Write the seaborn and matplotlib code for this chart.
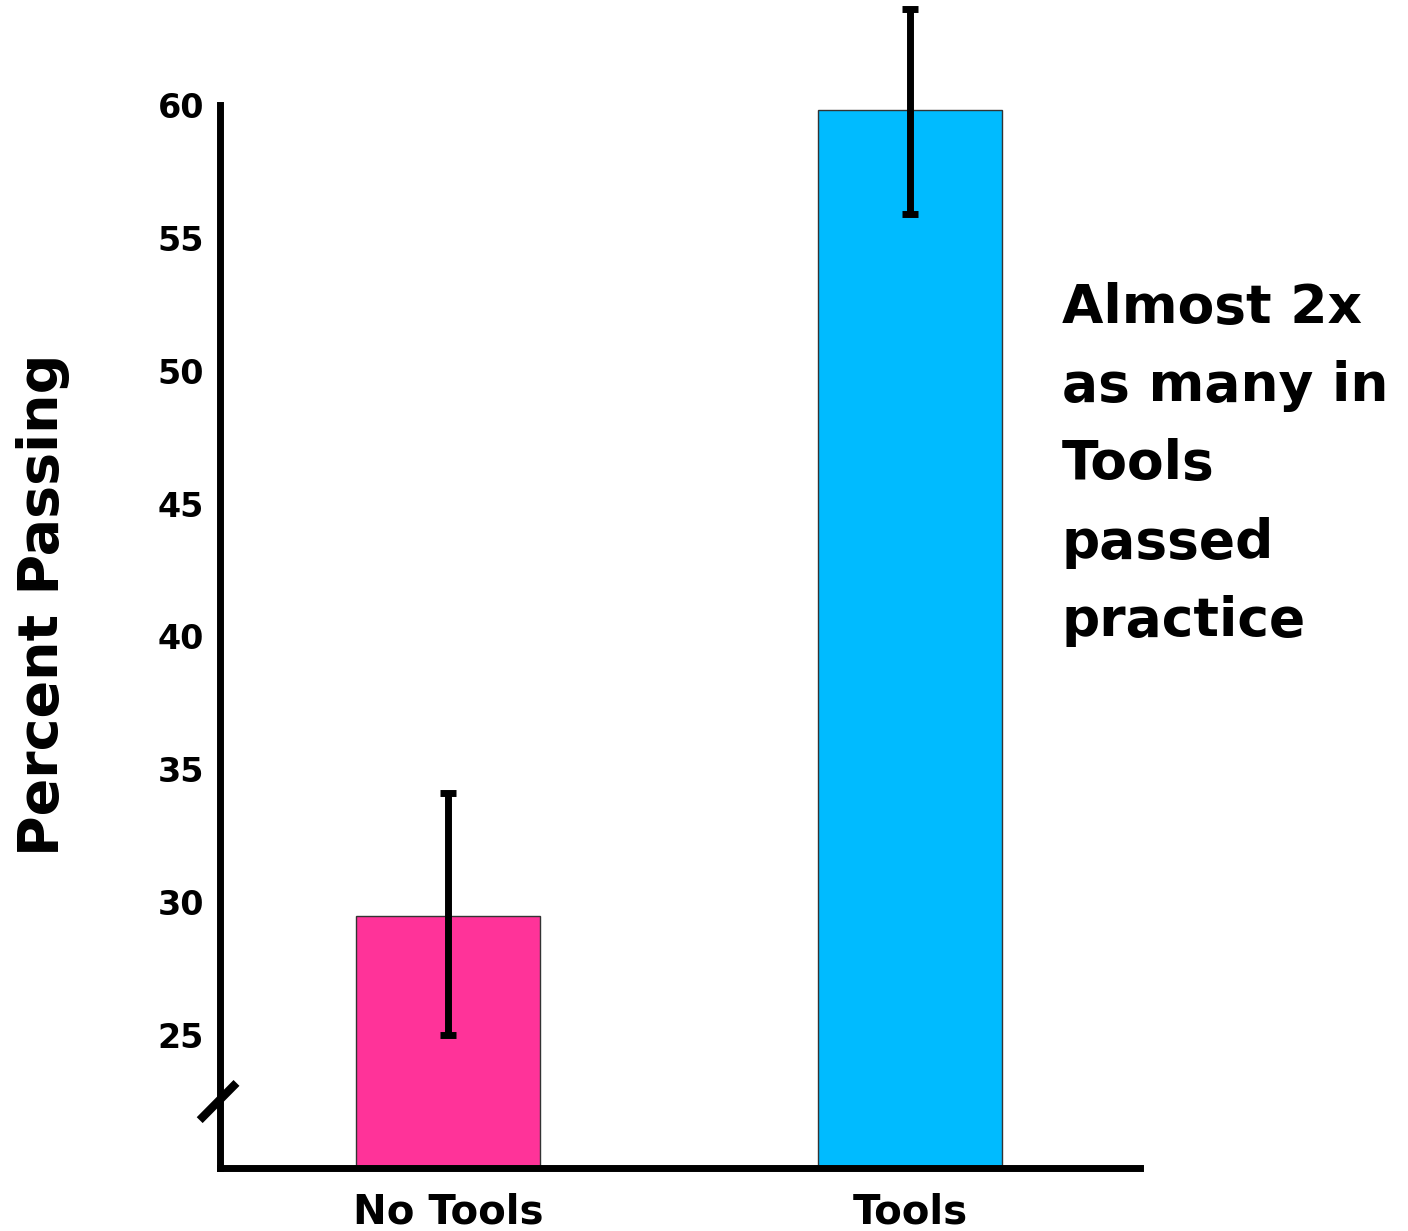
import matplotlib
matplotlib.use("Agg")
import matplotlib.pyplot as plt
import seaborn as sns
import numpy as np

# данные
groups = ["No Tools", "Tools"]
percent_passing = [29.5, 59.8]
err_lower = [25.0, 55.9]
err_upper = [34.1, 63.6]
bar_colors = ["#FF3399", "#00BBFF"]
yticks = [25, 30, 35, 40, 45, 50, 55, 60]
note = "Almost 2x\nas many in\nTools\npassed\npractice"

sns.set_style("white")
plt.rcParams['font.family'] = ['DejaVu Sans']
plt.rcParams['text.color'] = 'black'
plt.rcParams['axes.labelcolor'] = 'black'
plt.rcParams['xtick.color'] = 'black'
plt.rcParams['ytick.color'] = 'black'

fig = plt.figure(figsize=(14.08, 12.31), dpi=100)
ax = fig.add_axes([0.1562, 0.0512, 0.6535, 0.8635])

sns.barplot(x=groups, y=percent_passing, hue=groups, palette=bar_colors,
            saturation=1, width=0.4, edgecolor="#333333", linewidth=1,
            legend=False, ax=ax)

# усы ошибок
means = np.array(percent_passing)
yerr = [means - np.array(err_lower), np.array(err_upper) - means]
ax.errorbar(np.arange(len(groups)), means, yerr=yerr, fmt="none",
            ecolor="black", elinewidth=5, capsize=6, capthick=5,
            clip_on=False, zorder=5)

ax.set_ylim(20, 60)
ax.set_xlim(-0.494, 1.498)
ax.set_yticks(yticks)
ax.set_yticklabels([str(t) for t in yticks], fontsize=24, fontweight="bold")
ax.tick_params(axis="y", length=4.5, width=5, direction="out", pad=7)
ax.tick_params(axis="x", length=0, pad=18, labelsize=29)
for lab in ax.get_xticklabels():
    lab.set_fontweight("bold")

sns.despine(ax=ax)
for side in ["left", "bottom"]:
    ax.spines[side].set_linewidth(5)
    ax.spines[side].set_color("black")

ax.set_ylabel("Percent Passing", fontsize=40, fontweight="bold")
ax.yaxis.set_label_coords(-0.163, 0.53)

# значок разрыва оси
ax.plot([-0.022, 0.018], [0.045, 0.08], transform=ax.transAxes,
        color="black", linewidth=6, clip_on=False, solid_capstyle="butt")

fig.text(0.754, 0.771, note, fontsize=38.5, fontweight="bold",
         va="top", ha="left", linespacing=1.64)

fig.savefig("out.png", dpi=100)
